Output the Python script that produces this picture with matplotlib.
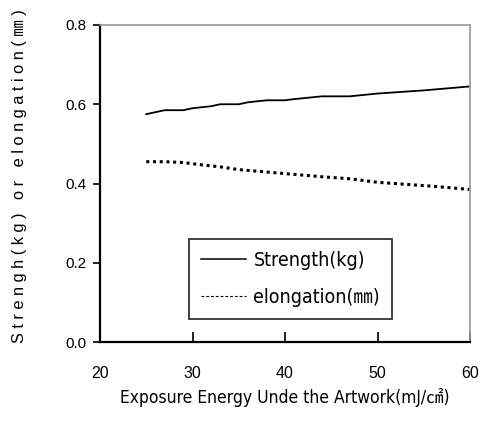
import numpy as np
import matplotlib
import matplotlib.pyplot as plt
from matplotlib.lines import Line2D

matplotlib.use("Agg")

# data
strength_x = [25, 27, 29, 30, 32, 33, 35, 36, 38, 40, 41, 44, 47, 50, 55, 60]
strength_y = [0.575, 0.585, 0.585, 0.59, 0.595, 0.60, 0.60, 0.605, 0.61, 0.61,
              0.613, 0.62, 0.62, 0.627, 0.635, 0.645]
elong_x = [25, 27, 29, 31, 33, 35, 37, 39, 41, 44, 47, 50, 53, 56, 60]
elong_y = [0.455, 0.455, 0.453, 0.447, 0.442, 0.435, 0.431, 0.427, 0.423,
           0.417, 0.412, 0.403, 0.398, 0.393, 0.385]
xticks = [20, 30, 40, 50, 60]
yticks = [0.0, 0.2, 0.4, 0.6, 0.8]
labels = ["Strength(kg)", "elongation(㎜)"]

narrow = ["DejaVu Sans", "Noto Sans CJK KR"]
plain = ["Liberation Sans", "Noto Sans CJK KR"]

fig = plt.figure(figsize=(4.8, 4.26), dpi=100)
ax = fig.add_axes([100 / 480, 84 / 426, 370 / 480, 317 / 426])

ax.plot(strength_x, strength_y, color="black", linewidth=1.3)
ax.plot(elong_x, elong_y, color="black", linewidth=2.2, linestyle=(0, (1, 1.2)))

ax.set_xlim(20, 60)
ax.set_ylim(0, 0.8)
ax.set_xticks(xticks)
ax.set_yticks(yticks)
ax.set_xticklabels([str(t) for t in xticks], family=plain, fontsize=11.5)
ax.set_yticklabels([f"{t:.1f}" for t in yticks], family=plain, fontsize=11)
ax.tick_params(axis="x", direction="in", length=7, width=1.2, pad=17)
ax.tick_params(axis="y", direction="out", length=5, width=1.2, pad=5)

for side in ["left", "bottom"]:
    ax.spines[side].set_linewidth(1.6)
for side in ["top", "right"]:
    ax.spines[side].set_color("#999999")
    ax.spines[side].set_linewidth(1.2)

handles = [Line2D([], [], color="black", linewidth=1.1),
           Line2D([], [], color="black", linewidth=0.8, linestyle=(0, (2.5, 1.8)))]
leg = ax.legend(handles, labels, loc="center", bbox_to_anchor=(0.515, 0.199),
                prop={"family": narrow, "size": 14, "stretch": "condensed"},
                frameon=True, fancybox=False,
                edgecolor="black", handlelength=2.3, handletextpad=0.4,
                labelspacing=0.95, borderpad=0.6)
leg.get_frame().set_linewidth(1.3)

ax.set_xlabel("Exposure Energy Unde the Artwork(mJ/㎠)", family=narrow,
              fontstretch="condensed", fontsize=12.5, labelpad=5)

ylab = "S t r e n g h ( k g )   o r   e l o n g a t i o n ( ㎜ )"
fig.text(20 / 480, 83 / 426, ylab, rotation=90, ha="center", va="bottom",
         family=plain, fontsize=11.8)

plt.savefig("out.png", dpi=100)
plt.close()
